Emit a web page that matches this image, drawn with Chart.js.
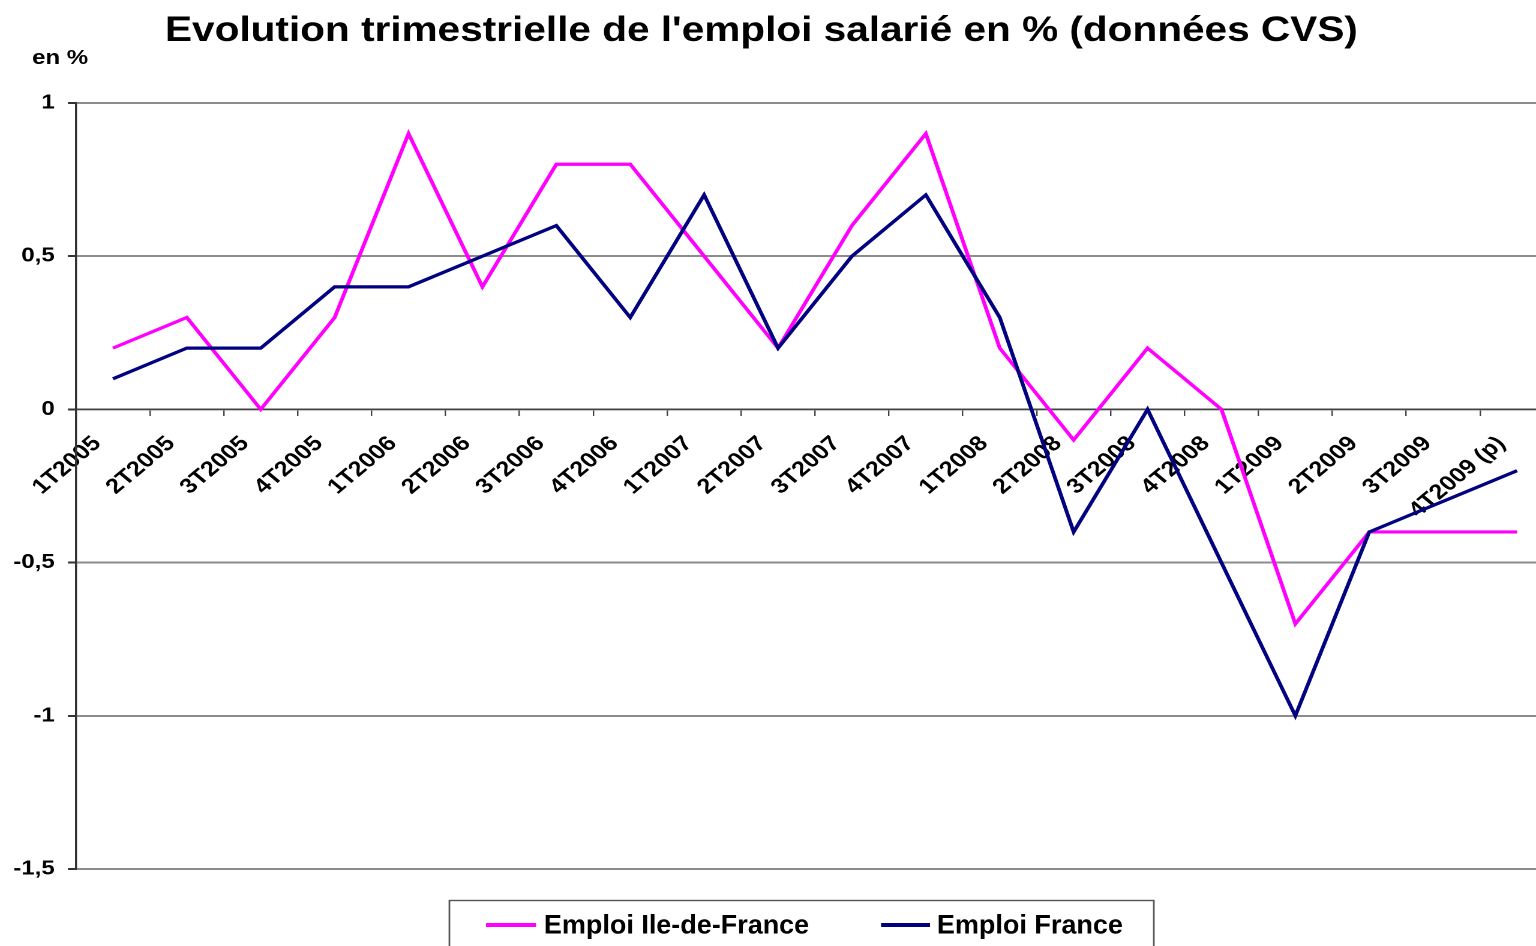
<!DOCTYPE html>
<html>
<head>
<meta charset="utf-8">
<script src="https://cdn.jsdelivr.net/npm/chart.js@4.4.0/dist/chart.umd.min.js"></script>
<style>
  html, body { margin: 0; padding: 0; background: #fff; overflow: hidden; }
  #wrap { position: relative; width: 1536px; height: 946px; overflow: hidden; }
  #c { position: absolute; left: 0; top: 0; transform: scaleX(1.2); transform-origin: 0 0; }
</style>
</head>
<body>
<div id="wrap"><canvas id="c" width="1297" height="946"></canvas></div>
<script>
const categories = ['1T2005','2T2005','3T2005','4T2005','1T2006','2T2006','3T2006','4T2006','1T2007','2T2007','3T2007','4T2007','1T2008','2T2008','3T2008','4T2008','1T2009','2T2009','3T2009','4T2009 (p)'];
const emploiIDF = [0.2, 0.3, 0.0, 0.3, 0.9, 0.4, 0.8, 0.8, 0.5, 0.2, 0.6, 0.9, 0.2, -0.1, 0.2, 0.0, -0.7, -0.4, -0.4, -0.4];
const emploiFrance = [0.1, 0.2, 0.2, 0.4, 0.4, 0.5, 0.6, 0.3, 0.7, 0.2, 0.5, 0.7, 0.3, -0.4, 0.0, -0.5, -1.0, -0.4, -0.3, -0.2];
const seriesNames = ['Emploi Ile-de-France', 'Emploi France'];
const seriesColors = ['#FF00FF', '#000080'];
const titleText = "Evolution trimestrielle de l'emploi salarié en % (données CVS)";
const yUnit = 'en %';

const FONT = '"Liberation Sans", Arial, sans-serif';

const decor = {
  id: 'decor',
  afterDraw(chart) {
    const ctx = chart.ctx;
    ctx.save();
    // title
    ctx.fillStyle = '#000';
    ctx.font = 'bold 35px ' + FONT;
    ctx.textAlign = 'center';
    ctx.textBaseline = 'alphabetic';
    ctx.fillText(titleText, 634.5, 41, 994);
    // unit
    ctx.font = 'bold 20px ' + FONT;
    ctx.textAlign = 'left';
    ctx.fillText(yUnit, 26.7, 64);
    // legend
    ctx.strokeStyle = '#555';
    ctx.lineWidth = 1.4;
    ctx.strokeRect(374.5, 900.5, 587, 60);
    const items = [
      {x1: 405, x2: 446.7, tx: 453.3, tw: 221},
      {x1: 734.2, x2: 775, tx: 780.8, tw: 155}
    ];
    ctx.font = 'bold 27px ' + FONT;
    ctx.textBaseline = 'middle';
    items.forEach((it, i) => {
      ctx.strokeStyle = seriesColors[i];
      ctx.lineWidth = 4;
      ctx.beginPath();
      ctx.moveTo(it.x1, 925);
      ctx.lineTo(it.x2, 925);
      ctx.stroke();
      ctx.fillStyle = '#000';
      ctx.fillText(seriesNames[i], it.tx, 926, it.tw);
    });
    ctx.restore();
  }
};

new Chart(document.getElementById('c'), {
  type: 'line',
  data: {
    labels: categories,
    datasets: [
      { label: seriesNames[0], data: emploiIDF, borderColor: seriesColors[0], backgroundColor: seriesColors[0], borderWidth: 3.2, pointRadius: 0, tension: 0, order: 1 },
      { label: seriesNames[1], data: emploiFrance, borderColor: seriesColors[1], backgroundColor: seriesColors[1], borderWidth: 3.2, pointRadius: 0, tension: 0, order: 0 }
    ]
  },
  options: {
    responsive: false,
    animation: false,
    devicePixelRatio: 2,
    layout: { padding: { top: 103, bottom: 77, left: 0, right: 2 } },
    plugins: { legend: { display: false }, title: { display: false }, tooltip: { enabled: false } },
    scales: {
      x: {
        type: 'category',
        position: { y: 0 },
        offset: true,
        afterFit(scale) { scale.height = 0; scale.paddingLeft = 0; scale.paddingRight = 0; },
        grid: { offset: true, drawOnChartArea: false, drawTicks: true, tickLength: 6, tickColor: '#444', lineWidth: 1.2 },
        border: { display: true, color: '#444', width: 1.5 },
        ticks: { autoSkip: false, minRotation: 45, maxRotation: 45, color: '#000', padding: 16, labelOffset: -13, font: { family: FONT, size: 21, weight: 'bold' } }
      },
      y: {
        position: 'left',
        min: -1.5,
        max: 1,
        afterFit(scale) { scale.width = 63.3; },
        ticks: {
          stepSize: 0.5,
          color: '#000',
          padding: 11,
          font: { family: FONT, size: 20, weight: 'bold' },
          callback: (v) => String(v).replace('.', ',')
        },
        grid: { color: '#8c8c8c', lineWidth: 2, drawTicks: true, tickLength: 6.7, tickColor: '#333' },
        border: { display: true, color: '#333', width: 1.7 }
      }
    }
  },
  plugins: [decor]
});
</script>
</body>
</html>
